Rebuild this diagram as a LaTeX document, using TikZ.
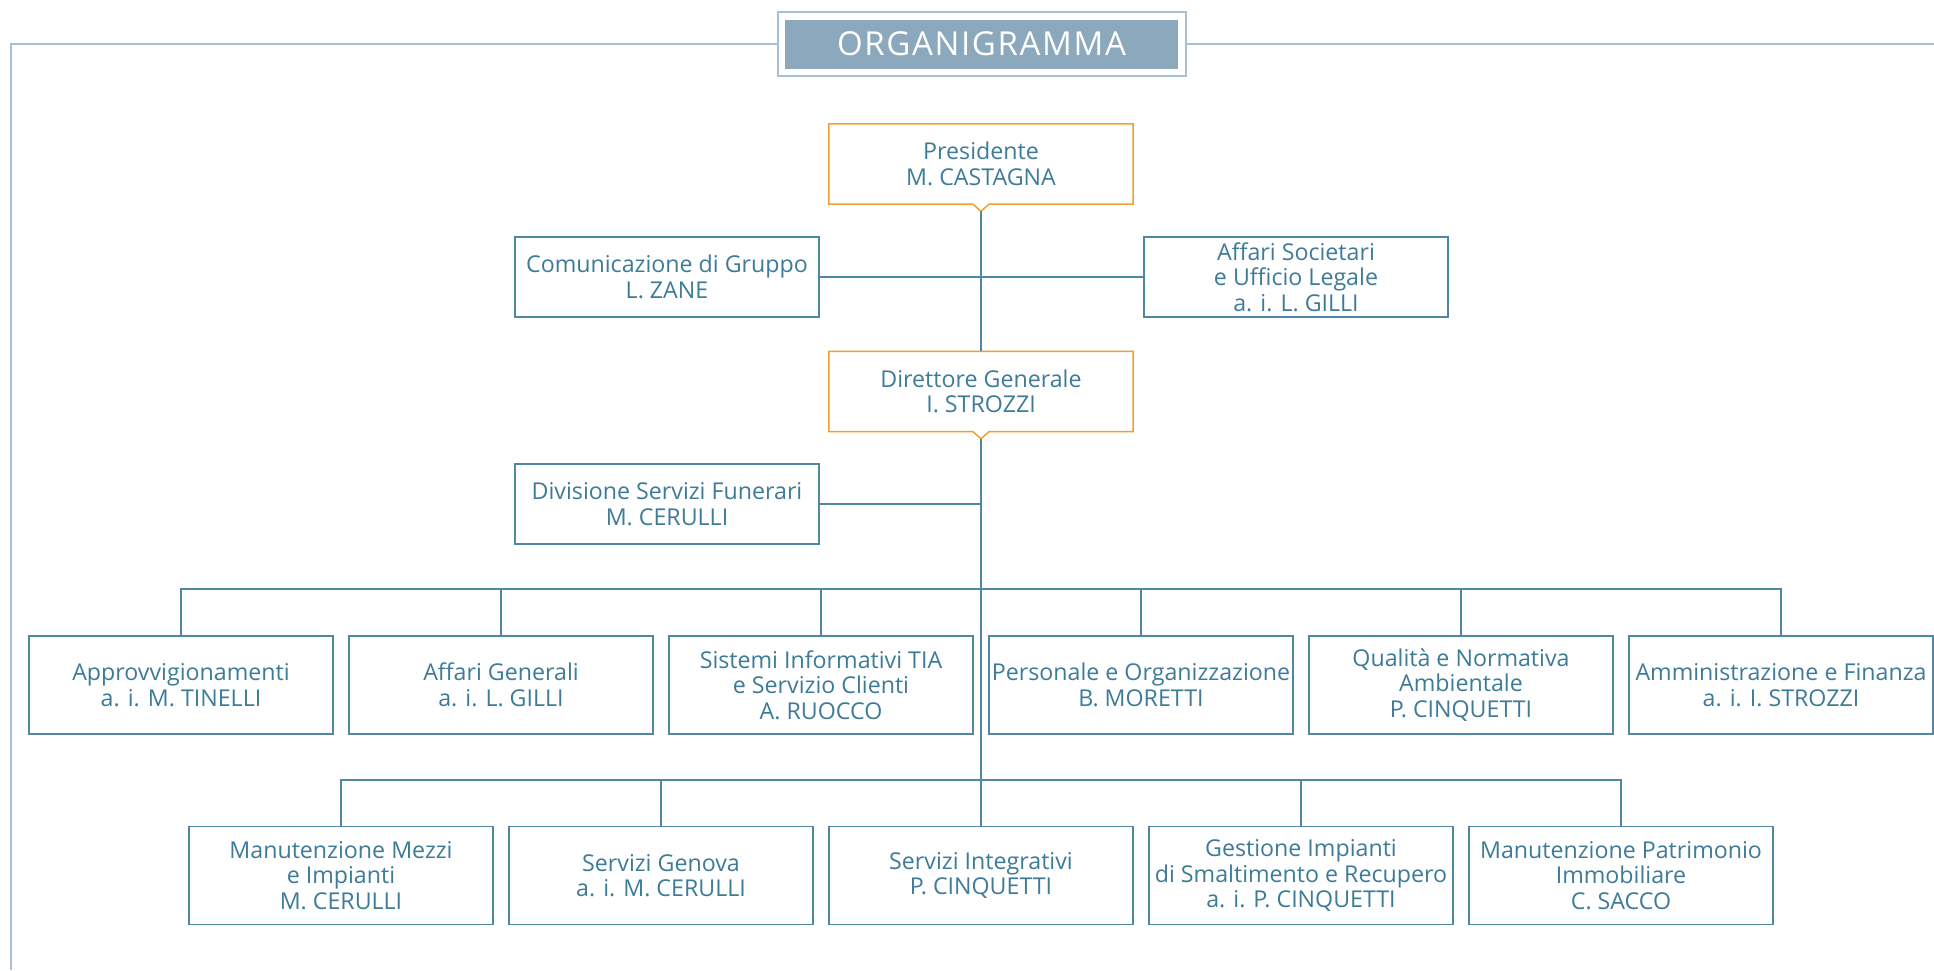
\documentclass[tikz,border=0pt]{standalone}
\usepackage{fontspec}
\setmainfont{Open Sans}
\usetikzlibrary{calc}
\definecolor{txt}{HTML}{3D7B98}
\definecolor{ln}{HTML}{4F87A4}
\definecolor{org}{HTML}{F0A030}
\definecolor{ttl}{HTML}{8BA8BD}
\definecolor{frm}{HTML}{A8C0D2}
\tikzset{
  base/.style={inner sep=0pt, align=center, text=txt, font=\fontsize{23.2}{25.5}\selectfont},
  unit/.style={base, draw=ln, line width=1.5pt, fill=white, minimum width=304pt, minimum height=98pt},
  topunit/.style={base, draw=ln, line width=1.5pt, fill=white, minimum width=304pt, minimum height=80pt},
  mgr/.style={base, minimum width=304pt, minimum height=80pt},
  mgrline/.style={draw=org, line width=1.5pt},
  conn/.style={draw=ln, line width=1.6pt},
  frmline/.style={draw=frm, line width=1.5pt},
  titlebox/.style={fill=ttl, inner sep=0pt, minimum width=393pt, minimum height=49pt, text=white, font=\fontsize{33}{36}\selectfont\addfontfeature{LetterSpace=5}},
  framebox/.style={draw=frm, line width=1.5pt, fill=white, minimum width=408pt, minimum height=64pt}
}
\newcommand\notchoutline[1]{%
  \draw[mgrline] (#1.north west) -- (#1.north east) -- (#1.south east)
    -- ($(#1.south)+(8,0)$) -- ($(#1.south)+(0,7)$) -- ($(#1.south)+(-8,0)$)
    -- (#1.south west) -- cycle;
  \coordinate (#1tip) at ($(#1.south)+(0,7)$);}
\begin{document}
\begin{tikzpicture}[x=1pt,y=-1pt]
\useasboundingbox (0,0) rectangle (1934,970);
% title and frame
\coordinate (tl) at (11,44);
\coordinate (bl) at (11,970);
\coordinate (tr) at (1934,44);
\node[framebox] (frame) at (982,44) {};
\draw[frmline] (frame.west) -- (tl) -- (bl);
\draw[frmline] (frame.east) -- (tr);
\node[titlebox] (title) at (981.5,44) {ORGANIGRAMMA};

% top management
\node[mgr] (pres) at (981,164) {Presidente\\M. CASTAGNA};
\notchoutline{pres}
\node[topunit] (com) at (667,277) {Comunicazione di Gruppo\\L. ZANE};
\node[topunit] (aff) at (1296,277) {Affari Societari\\e Ufficio Legale\\a. i. L. GILLI};
\node[mgr] (dir) at (981,391.5) {Direttore Generale\\I. STROZZI};
\notchoutline{dir}
\node[topunit] (div) at (667,504) {Divisione Servizi Funerari\\M. CERULLI};

% row 1
\node[unit] (r1a) at (181,685) {Approvvigionamenti\\a. i. M. TINELLI};
\node[unit] (r1b) at (501,685) {Affari Generali\\a. i. L. GILLI};
\node[unit] (r1c) at (821,685) {Sistemi Informativi TIA\\e Servizio Clienti\\A. RUOCCO};
\node[unit] (r1d) at (1141,685) {Personale e Organizzazione\\B. MORETTI};
\node[unit] (r1e) at (1461,685) {Qualità e Normativa\\Ambientale\\P. CINQUETTI};
\node[unit] (r1f) at (1781,685) {Amministrazione e Finanza\\a. i. I. STROZZI};

% row 2
\node[unit] (r2a) at (341,875.5) {Manutenzione Mezzi\\e Impianti\\M. CERULLI};
\node[unit] (r2b) at (661,875.5) {Servizi Genova\\a. i. M. CERULLI};
\node[unit] (r2c) at (981,875.5) {Servizi Integrativi\\P. CINQUETTI};
\node[unit] (r2d) at (1301,875.5) {Gestione Impianti\\di Smaltimento e Recupero\\a. i. P. CINQUETTI};
\node[unit] (r2e) at (1621,875.5) {Manutenzione Patrimonio\\Immobiliare\\C. SACCO};

% connectors
\coordinate (bus1) at (981,589);
\coordinate (bus2) at (981,780);
\draw[conn] (prestip) -- (dir.north);
\draw[conn] (com.east) -- (aff.west);
\draw[conn] (div.east) -- (div.east -| dirtip);
\draw[conn] (dirtip) -- (r2c.north);
\foreach \n in {r1a,r1b,r1c,r1d,r1e,r1f}{\draw[conn] (\n.north) |- (bus1);}
\foreach \n in {r2a,r2b,r2d,r2e}{\draw[conn] (\n.north) |- (bus2);}
\end{tikzpicture}
\end{document}
